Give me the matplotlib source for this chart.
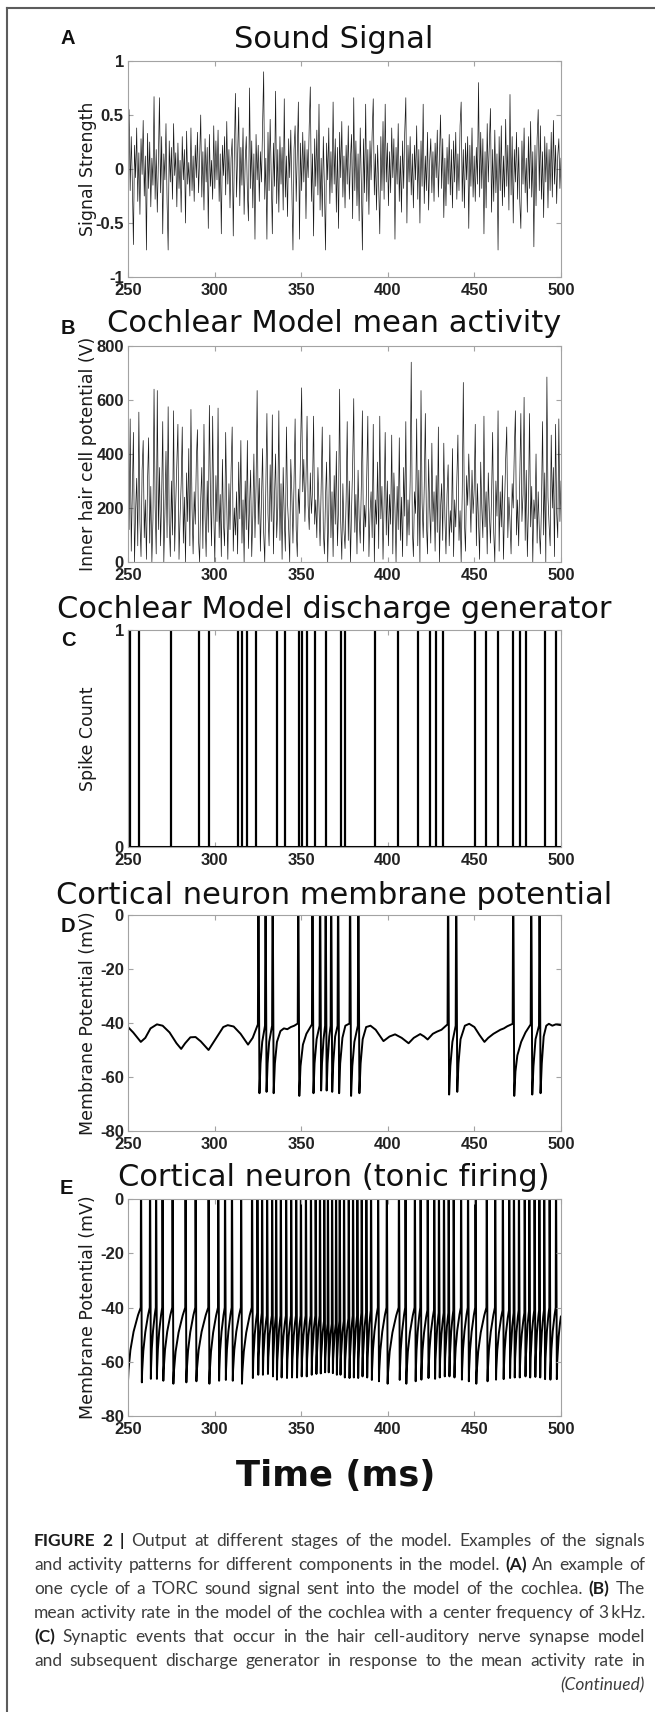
import numpy as np
import matplotlib
matplotlib.use("Agg")
import matplotlib.pyplot as plt
from matplotlib import font_manager
from matplotlib.lines import Line2D
from matplotlib.path import Path
from matplotlib.patches import PathPatch

# ---------------------------------------------------------------- data
TIME_RANGE = (250, 500)
X_TICKS = [250, 300, 350, 400, 450, 500]

# (A) sound signal, hundredths, 20 samples per 12.5 ms
SOUND_SIGNAL_CENTI = [
    5, 55, -20, 30, -12, -70, 22, -8, 38, -30, 15, -42, 28, -5, 45, -25, 12, -75, 33, -18,
    25, -35, 10, -15, 67, -28, 18, -40, 8, 66, -22, 30, -60, 14, -10, 42, -30, -75, 26, -12,
    20, -28, 42, -6, 15, -35, 24, -18, 8, -40, 30, -10, 18, -50, 35, -14, 6, -25, 38, -20,
    12, -30, 22, -8, 34, -22, 10, 50, -26, 16, -38, 28, -12, 20, -55, 32, -16, 8, -28, 40,
    -18, 26, -10, 36, -30, 14, -60, 22, -6, 30, -24, 44, -14, 18, -36, 10, 28, -62, 15, 70,
    -26, 12, 57, -34, 20, -15, 38, -42, 8, 30, -22, -48, 75, -18, 26, -36, 14, -65, 32, -10,
    22, -30, 16, -12, 40, 90, -28, 10, -65, 34, -20, 46, -8, -60, 24, -16, 72, -32, 18, -40,
    30, -14, 20, -38, 65, -26, 12, -44, 28, -8, 36, -22, -75, 18, 40, -30, 14, 62, -65, 24,
    -20, 34, -12, 26, -46, 18, -8, 40, 76, -30, 14, -62, 28, -16, 36, -24, 60, -38, 10, -44,
    30, -18, -75, 24, -10, 38, -32, 16, -22, 62, -14, 28, -40, 20, -55, 34, -8, 44, -26, 12,
    -36, 22, -14, 40, -28, 10, 32, -46, 66, -20, 26, -34, 14, -48, 38, -12, -75, 28, -22, 60,
    -30, 18, -42, 26, -10, 34, 65, -24, 14, -38, 22, -16, -60, 30, -20, 44, -28, 60, -12, 24,
    -34, 16, -22, 38, -8, 28, -65, 20, -14, 42, -30, 12, -40, 26, -18, 34, 66, -50, 22, -12,
    30, -24, 14, -36, 22, -10, 40, -28, 18, -50, 26, -16, 60, -32, 12, -20, 34, -38, 8, 28,
    -22, 16, -30, 24, -8, 36, -26, 12, 50, -18, 28, -45, 10, -34, 20, -14, 32, -24, 18, -36,
    26, -12, 34, -28, 14, -20, 40, 62, -30, 18, -36, 24, -10, 30, -55, 22, -16, 38, -26, 12,
    -30, 20, -14, 80, -26, 34, -18, 28, -60, 16, -36, 42, -12, 24, 56, -40, 18, -30, 36, -22,
    14, -75, 30, -20, 40, -34, 12, -26, 46, -16, 22, -38, 69, -24, 30, -50, 18, -12, 34, -28,
    20, -30, -55, 26, -14, 38, -22, 10, -40, 30, -18, 44, -26, 16, -72, 22, -34, 28, 55, -20,
    40, -28, 16, -45, 30, -12, 24, -36, 18, -20, 34, -26, 45, -14, 22, -32, 12, 28, -18, 10,
]

# (B) inner hair cell potential, 20 samples per 12.5 ms
IHC_POTENTIAL = [
    380, 120, 530, 40, 260, 480, 0, 190, 310, 60, 555, 150, 20, 340, 450, 90, 230, 10, 300, 460,
    70, 280, 0, 160, 640, 210, 30, 635, 120, 350, 60, 240, 520, 0, 180, 410, 90, 575, 140, 20,
    300, 100, 560, 40, 220, 360, 510, 10, 170, 290, 500, 70, 240, 0, 330, 150, 420, 60, 565, 200,
    30, 260, 140, 380, 490, 80, 0, 230, 350, 50, 510, 170, 20, 300, 110, 580, 240, 60, 540, 190,
    0, 320, 150, 570, 90, 250, 20, 380, 140, 60, 480, 210, 10, 290, 120, 340, 500, 40, 200, 100,
    260, 30, 370, 160, 450, 70, 230, 0, 300, 120, 450, 50, 210, 340, 20, 170, 400, 90, 280, 635,
    140, 310, 40, 230, 420, 110, 0, 270, 550, 180, 60, 360, 150, 545, 30, 240, 400, 90, 200, 560,
    80, 290, 10, 350, 160, 40, 500, 220, 130, 0, 380, 250, 70, 310, 530, 120, 20, 270, 180, 420,
    645, 260, 380, 150, 300, 540, 210, 120, 330, 180, 260, 540, 140, 230, 90, 350, 200, 60, 280, 500,
    110, 30, 240, 370, 0, 180, 470, 90, 260, 20, 320, 140, 410, 60, 200, 640, 150, 10, 290, 120,
    50, 230, 520, 80, 300, 0, 190, 360, 605, 110, 250, 30, 340, 160, 70, 280, 560, 40, 210, 130,
    320, 540, 20, 180, 260, 90, 510, 0, 230, 140, 370, 50, 540, 160, 280, 10, 220, 480, 100, 300,
    60, 250, 140, 470, 30, 330, 200, 0, 280, 120, 460, 80, 240, 20, 350, 170, 520, 60, 230, 100,
    300, 740, 120, 20, 260, 180, 530, 60, 340, 0, 635, 220, 90, 280, 550, 140, 30, 380, 200, 70,
    440, 150, 260, 40, 320, 110, 500, 0, 200, 290, 80, 440, 170, 30, 250, 360, 60, 190, 110, 420,
    20, 230, 130, 300, 470, 80, 190, 0, 260, 665, 150, 40, 320, 210, 400, 250, 110, 340, 180, 270,
    510, 60, 290, 150, 10, 370, 200, 90, 540, 130, 260, 30, 330, 180, 70, 240, 480, 110, 0, 300,
    170, 560, 40, 260, 130, 320, 10, 210, 380, 500, 90, 240, 150, 30, 290, 200, 420, 560, 100, 230,
    60, 310, 550, 150, 250, 610, 80, 340, 20, 200, 550, 130, 280, 0, 230, 160, 400, 70, 260, 120,
    30, 210, 520, 100, 330, 0, 685, 240, 140, 60, 470, 200, 350, 20, 510, 180, 90, 530, 150, 300,
]

# (C) discharge generator spike times (ms)
C_SPIKE_TIMES = [251.2, 256.4, 275.1, 291.1, 296.7, 313.6, 316.0, 318.7, 323.8, 336.2,
                 340.9, 348.5, 350.6, 353.5, 357.8, 364.2, 372.8, 375.0, 392.5, 406.0,
                 417.6, 424.1, 428.0, 431.9, 450.2, 456.8, 463.5, 472.2, 476.1, 480.0,
                 490.9, 497.1]

# (D) membrane potential trace (ms, mV)
D_TIME = [250, 253, 257.4, 260, 263, 266.7, 270, 274, 278, 280.7, 283, 286, 289, 292,
          296.5, 299, 302, 305, 307.6, 311, 315, 319.3, 322, 325.0,
          325.3, 325.9, 326.5, 327.5, 329.1,
          329.4, 330.0, 330.6, 331.5, 333.2,
          333.5, 334.1, 334.8, 336, 338, 340, 342, 344, 346, 348.0,
          348.3, 348.9, 349.6, 351, 353, 356.2,
          356.5, 357.1, 357.7, 358.9, 360.6,
          360.9, 361.5, 362.0, 362.9, 363.8,
          364.1, 364.7, 365.2, 366.2, 367.0,
          367.3, 367.9, 368.5, 369.6, 371.0,
          371.3, 371.9, 372.5, 373.8, 375.5, 377.9,
          378.2, 378.8, 379.5, 380.7, 382.7,
          383.0, 383.6, 384.3, 385.5, 387.5, 390, 393, 397.5, 401, 404.2, 408, 412, 415,
          418.7, 421, 423, 426, 428.4, 431, 434.5,
          434.8, 435.4, 436.1, 437.3, 439.2,
          439.5, 440.1, 440.8, 442, 444.5, 447, 450, 453, 455.8, 458, 461, 463.1, 465,
          467, 469, 472.1,
          472.4, 473.0, 473.7, 474.8, 477, 479.5, 482.5,
          482.8, 483.4, 484.1, 485.3, 487.3,
          487.6, 488.2, 488.9, 490, 491.5, 493, 495, 497, 500]
D_VM = [-41.5, -43.5, -47, -45.5, -42, -40.5, -41, -43.5, -47.5, -49.6, -47.5, -45.3, -45.2,
        -46.8, -50, -47.5, -44.5, -41.5, -40.8, -41.3, -44, -48, -45.5, -40.5,
        20, -66, -55, -47, -41,
        20, -65.5, -55, -47, -41,
        20, -66, -55, -47, -43, -42, -42.3, -41.5, -41, -40.2,
        20, -67, -56, -48, -44, -40.5,
        20, -66, -55, -46, -41,
        20, -65, -55, -46, -41,
        20, -65, -55, -45, -41,
        20, -65.5, -55, -45, -41,
        20, -66, -55, -45.5, -41, -40.2,
        20, -67, -56, -47, -41,
        20, -66, -55, -46, -41.5, -41, -42.5, -46.7, -45, -44.2, -45.5, -47.5, -45.5,
        -44.1, -45, -46.1, -44, -43.2, -42.5, -40.5,
        20, -66.5, -56, -47, -41,
        20, -65.5, -55, -46, -41, -40.3, -41.5, -44.5, -47, -45.5, -44, -43.2, -42.5,
        -42, -41.2, -40.3,
        20, -67, -58, -52, -47, -43.5, -40.5,
        20, -66.5, -56, -46, -41,
        20, -66, -55, -45, -41, -40.3, -41, -40.5, -40.8]

# (E) tonic firing: spike times, voltage at spike onset, trough after spike
E_SPIKE_TIMES = [257.5, 262.7, 266.2, 269.9, 275.7, 283.2, 289.0, 296.5, 302.1, 306.0,
                 310.0, 315.3, 321.6, 324.7, 327.4, 330.3, 333.2, 335.5, 338.2, 341.3,
                 344.2, 347.1, 349.8, 352.7, 355.6, 358.3, 360.8, 363.3, 365.4, 367.8,
                 370.1, 372.2, 374.7, 377.4, 379.9, 382.4, 384.9, 387.6, 390.3, 394.4,
                 399.4, 406.4, 410.2, 415.6, 418.9, 423.0, 426.8, 429.5, 432.4, 435.1,
                 438.0, 442.3, 446.3, 450.6, 457.1, 462.0, 466.4, 470.1, 472.8, 475.7,
                 479.0, 481.7, 484.7, 487.5, 490.3, 493.4, 497.1]
E_THRESHOLD = [-40] * 13 + [-42, -42, -43, -43] + [-43] * 10 + \
              [-45, -46, -46, -46, -45, -45, -44] + [-43, -43, -42, -42] + [-41, -40] + \
              [-40] * 5 + [-41, -41, -42, -42, -42, -41, -40] + [-40] * 3 + \
              [-40, -41, -41, -42, -41, -42, -41, -41, -41, -41, -40, -40]
E_TROUGH = [-67.6, -66.3, -66.3, -67.0, -68.1, -67.6, -67.2, -68.1, -67.0, -66.7,
            -67.0, -68.1, -66.0, -64.8, -64.8, -64.5, -65.4, -66.6, -65.8, -66.0,
            -65.8, -65.8, -65.4, -65.4, -64.8, -64.5, -64.3, -63.9, -63.9, -64.2,
            -64.8, -64.8, -65.8, -66.0, -65.8, -66.0, -65.4, -65.8, -66.7, -67.2,
            -68.1, -66.7, -68.1, -67.2, -66.6, -66.0, -66.3, -65.8, -65.4, -65.4,
            -65.8, -66.6, -67.2, -68.1, -67.2, -66.6, -66.4, -66.0, -65.8, -65.8,
            -65.4, -65.8, -65.6, -65.8, -66.4, -66.6, -66.4]
E_START_VM = -67.2
E_END_VM = -43.0

PANEL_LETTERS = ["A", "B", "C", "D", "E"]
PANEL_TITLES = ["Sound Signal", "Cochlear Model mean activity",
                "Cochlear Model discharge generator",
                "Cortical neuron membrane potential",
                "Cortical neuron (tonic firing)"]
Y_LABELS = ["Signal Strength", "Inner hair cell potential (V)", "Spike Count",
            "Membrane Potential (mV)", "Membrane Potential (mV)"]
Y_TICKS = [[-1, -0.5, 0, 0.5, 1], [0, 200, 400, 600, 800], [0, 1],
           [-80, -60, -40, -20, 0], [-80, -60, -40, -20, 0]]
Y_TICK_LABELS = [["-1", "-0.5", "0", "0.5", "1"], ["0", "200", "400", "600", "800"],
                 ["0", "1"], ["-80", "-60", "-40", "-20", "0"],
                 ["-80", "-60", "-40", "-20", "0"]]
X_LABEL = "Time (ms)"

CAPTION_LINES = [
    [("FIGURE 2 |", "b"), ("Output at different stages of the model. Examples of the signals", "r")],
    [("and activity patterns for different components in the model.", "r"), ("(A)", "b"),
     ("An example of", "r")],
    [("one cycle of a TORC sound signal sent into the model of the cochlea.", "r"),
     ("(B)", "b"), ("The", "r")],
    [("mean activity rate in the model of the cochlea with a center frequency of 3\u2009kHz.", "r")],
    [("(C)", "b"), ("Synaptic events that occur in the hair cell-auditory nerve synapse model", "r")],
    [("and subsequent discharge generator in response to the mean activity rate in", "r")],
]
CAPTION_END = "(Continued)"

# ---------------------------------------------------------------- layout
W, H, DPI = 655, 1712, 100
AX_LEFT, AX_RIGHT = 128, 561
AX_ROWS = [(61, 277), (346, 562), (630, 847), (915, 1131), (1199, 1416)]
TITLE_Y = [39, 323, 609, 895, 1178]
LETTER_POS = [(68, 39), (68, 328), (68, 641), (68, 927), (66, 1189)]
SPINE = "#a3a3a3"

plt.rcParams["axes.unicode_minus"] = False
plt.rcParams["font.family"] = ["DejaVu Sans"]

avail = {f.name for f in font_manager.fontManager.ttflist}
CAP_FONT = "Lato" if "Lato" in avail else "Liberation Sans"
TICK_FONT = ["Liberation Sans", "DejaVu Sans"]

fig = plt.figure(figsize=(W / DPI, H / DPI), dpi=DPI)


def fx(x):
    return x / W


def fy(y):
    return 1 - y / H


def make_axes(i):
    top, bot = AX_ROWS[i]
    ax = fig.add_axes([fx(AX_LEFT), fy(bot), (AX_RIGHT - AX_LEFT) / W, (bot - top) / H])
    ax.set_xlim(*TIME_RANGE)
    ax.set_ylim(Y_TICKS[i][0], Y_TICKS[i][-1])
    ax.set_xticks(X_TICKS)
    ax.set_xticklabels([str(t) for t in X_TICKS])
    ax.set_yticks(Y_TICKS[i])
    ax.set_yticklabels(Y_TICK_LABELS[i])
    for s in ax.spines.values():
        s.set_color(SPINE)
        s.set_linewidth(0.8)
    ax.tick_params(direction="in", top=True, right=True, length=3.5, width=0.8,
                   color=SPINE, labelsize=12, labelcolor="#222222")
    ax.tick_params(axis="x", pad=4)
    ax.tick_params(axis="y", pad=3)
    for lab in ax.get_xticklabels() + ax.get_yticklabels():
        lab.set_fontweight("bold")
        lab.set_family(TICK_FONT)
    fig.text(fx(334), fy(TITLE_Y[i]), PANEL_TITLES[i], fontsize=22, ha="center",
             va="center", color="#111111")
    lx, ly = LETTER_POS[i]
    fig.text(fx(lx), fy(ly), PANEL_LETTERS[i], fontsize=14.5, weight="bold",
             family=TICK_FONT, ha="center", va="center", color="#111111")
    fig.text(fx(88), fy((top + bot) / 2), Y_LABELS[i], fontsize=12.5, rotation=90,
             ha="center", va="center", color="#1a1a1a")
    return ax


# A: sound signal
ax = make_axes(0)
sig = np.array(SOUND_SIGNAL_CENTI) / 100.0
ax.plot(np.linspace(*TIME_RANGE, len(sig)), sig, color="#1a1a1a", lw=0.5)

# B: cochlear mean activity
ax = make_axes(1)
ihc = np.array(IHC_POTENTIAL)
ax.plot(np.linspace(*TIME_RANGE, len(ihc)), ihc, color="#1a1a1a", lw=0.5)

# C: discharge generator
ax = make_axes(2)
ax.vlines(C_SPIKE_TIMES, 0, 1, color="black", lw=1.6)
ax.axhline(0, color="black", lw=2.2)

# D: cortical neuron membrane potential
ax = make_axes(3)
ax.plot(D_TIME, D_VM, color="black", lw=1.4)


# E: tonic firing, recoveries drawn as quadratic curves between read points
def spike_path(times, thresholds, troughs, v_start, v_end, t_start, t_end,
               peak=20.0, fall=0.5):
    verts = [(t_start, v_start)]
    codes = [Path.MOVETO]
    pt, pv = t_start, v_start
    for t, thr, tr in zip(times, thresholds, troughs):
        et = t - 0.15
        verts += [(pt + 0.1 * (et - pt), pv + 0.6 * (thr - pv)), (et, thr),
                  (t, peak), (t + fall, tr)]
        codes += [Path.CURVE3, Path.CURVE3, Path.LINETO, Path.LINETO]
        pt, pv = t + fall, tr
    verts += [(pt + 0.1 * (t_end - pt), pv + 0.6 * (v_end - pv)), (t_end, v_end)]
    codes += [Path.CURVE3, Path.CURVE3]
    return Path(verts, codes)


ax = make_axes(4)
ax.add_patch(PathPatch(spike_path(E_SPIKE_TIMES, E_THRESHOLD, E_TROUGH, E_START_VM,
                                  E_END_VM, *TIME_RANGE),
                       fill=False, edgecolor="black", lw=1.4, joinstyle="round"))
ax.set_xlim(*TIME_RANGE)
ax.set_ylim(-80, 0)

fig.text(fx(336), fy(1476), X_LABEL, fontsize=25.5, weight="bold", ha="center",
         va="center", color="#111111")

# frame
fig.add_artist(Line2D([fx(7), fx(7)], [0, fy(8)], color="#5c5c5c", lw=1.5))
fig.add_artist(Line2D([fx(7), 1], [fy(8), fy(8)], color="#5c5c5c", lw=1.5))

# caption, justified word by word
CAP_X0, CAP_X1 = 34, 645
CAP_BASE = [1546 + 24 * k for k in range(7)]
renderer = fig.canvas.get_renderer()


def caption_words(line):
    out = []
    for seg, style in line:
        out += [(w, style) for w in seg.split(" ")]
    return out


def make_word(w, style, size):
    return fig.text(0, 0, w, fontsize=size, family=[CAP_FONT, "DejaVu Sans"],
                    weight="bold" if style == "b" else "normal",
                    color="#1c1c1c" if style == "b" else "#3d3d3d",
                    ha="left", va="baseline")


# find a size where the widest line nearly fills the column
probe = []
scratch = []
for line in CAPTION_LINES:
    words = [make_word(w, s, 12) for w, s in caption_words(line)]
    scratch += words
    total = sum(t.get_window_extent(renderer).width for t in words)
    a1, a2 = make_word("a a", "r", 12), make_word("aa", "r", 12)
    scratch += [a1, a2]
    space = a1.get_window_extent(renderer).width - a2.get_window_extent(renderer).width
    probe.append(total + space * (len(words) - 1))
for t in scratch:
    t.remove()
cap_size = 12 * 0.99 * (CAP_X1 - CAP_X0) / max(probe)

for k, line in enumerate(CAPTION_LINES):
    words = [make_word(w, s, cap_size) for w, s in caption_words(line)]
    widths = [t.get_window_extent(renderer).width for t in words]
    gap = (CAP_X1 - CAP_X0 - sum(widths)) / (len(words) - 1)
    x = CAP_X0
    for t, wd in zip(words, widths):
        t.set_position((fx(x), fy(CAP_BASE[k])))
        x += wd + gap
fig.text(fx(CAP_X1), fy(CAP_BASE[6]), CAPTION_END, fontsize=cap_size,
         family=[CAP_FONT, "DejaVu Sans"], style="italic", color="#3d3d3d",
         ha="right", va="baseline")

fig.savefig("out.png", dpi=DPI)
